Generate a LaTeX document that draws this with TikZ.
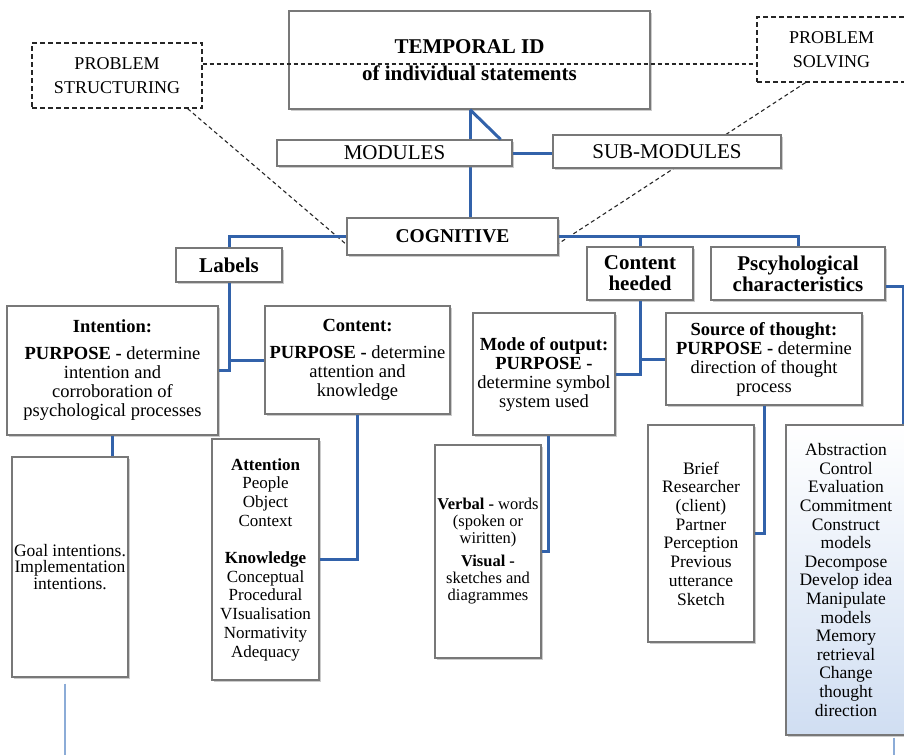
\documentclass[tikz,border=0pt]{standalone}
\usepackage{fontspec}
\setmainfont{Liberation Serif}
\usetikzlibrary{shadows,backgrounds}
\definecolor{linkblue}{RGB}{50,98,170}
\definecolor{paleblue}{RGB}{140,172,215}
\definecolor{boxgray}{RGB}{120,120,120}
\definecolor{shadeblue}{RGB}{208,222,242}

\begin{document}
\begin{tikzpicture}[x=1pt,y=-1pt,
  box/.style={draw=boxgray,line width=1.2pt,fill=white,align=center,inner sep=1pt,
    drop shadow={shadow xshift=1.6pt,shadow yshift=-1.6pt,opacity=.4}},
  dashbox/.style={draw=black!85,line width=1.2pt,dash pattern=on 5pt off 3pt,fill=white,
    align=center,inner sep=1pt,font=\fontsize{18}{24}\selectfont},
  link/.style={draw=linkblue,line width=3pt},
  thinlink/.style={draw=paleblue,line width=1.6pt},
  dashlink/.style={draw=black!85,line width=1.1pt,dash pattern=on 4pt off 3pt},
  txt/.style={font=\fontsize{18.5}{19}\selectfont},
  head/.style={font=\bfseries\fontsize{21}{21}\selectfont}]
\useasboundingbox (0,0) rectangle (904,755);

% top row
\node[box,minimum width=361pt,minimum height=98pt,font=\bfseries\fontsize{21}{27}\selectfont] (temporal) at (469.5,60) {TEMPORAL ID\\of individual statements};
\node[dashbox,minimum width=170pt,minimum height=65pt] (structuring) at (117,75.5) {PROBLEM\\STRUCTURING};
\node[dashbox,minimum width=149pt,minimum height=65pt] (solving) at (831.5,49.5) {PROBLEM\\SOLVING};
\node[box,minimum width=235pt,minimum height=26pt,inner sep=0pt,font=\fontsize{21}{21}\selectfont] (modules) at (394.5,153) {MODULES};
\node[box,minimum width=228pt,minimum height=33pt,font=\fontsize{21}{21}\selectfont] (submodules) at (667,151.5) {SUB-MODULES};
\node[box,minimum width=211pt,minimum height=37pt,font=\bfseries\fontsize{19.5}{20}\selectfont] (cognitive) at (452.5,236.5) {COGNITIVE};

% categories
\node[box,head,minimum width=106pt,minimum height=34pt] (labels) at (229,265) {Labels};
\node[box,head,minimum width=106pt,minimum height=53pt] (heeded) at (640,273.5) {Content\\heeded};
\node[box,head,minimum width=174pt,minimum height=53pt] (psych) at (798,273.5) {Pscyhological\\characteristics};

\node[box,txt,minimum width=211pt,minimum height=129pt] (intention) at (112.5,370.5) {\textbf{Intention:}\\[8pt]\textbf{PURPOSE -} determine\\intention and\\corroboration of\\psychological processes};
\node[box,txt,minimum width=185pt,minimum height=108pt] (content) at (357.5,360) {\textbf{Content:}\\[8pt]\textbf{PURPOSE -} determine\\attention and\\knowledge};
\node[box,txt,minimum width=142pt,minimum height=122pt] (mode) at (544,374) {\textbf{Mode of output:}\\\textbf{PURPOSE -}\\determine symbol\\system used};
\node[box,txt,minimum width=196pt,minimum height=92pt] (source) at (764,359) {\textbf{Source of thought:}\\\textbf{PURPOSE -} determine\\direction of thought\\process};

% lists
\node[box,minimum width=116pt,minimum height=220pt,font=\fontsize{17.5}{16.7}\selectfont] (goal) at (70,567) {Goal intentions.\\Implementation\\intentions.};
\node[box,minimum width=107pt,minimum height=241pt,font=\fontsize{17}{18.7}\selectfont] (attention) at (265.5,559.5) {\textbf{Attention}\\People\\Object\\Context\\[18.7pt]\textbf{Knowledge}\\Conceptual\\Procedural\\VIsualisation\\Normativity\\Adequacy};
\node[box,minimum width=106pt,minimum height=213pt,inner sep=0pt,font=\fontsize{16.5}{17}\selectfont] (verbal) at (488,551.5) {\textbf{Verbal -} words\\(spoken or\\wiritten)\\[6pt]\textbf{Visual -}\\sketches and\\diagrammes};
\node[box,minimum width=106pt,minimum height=217pt,font=\fontsize{17.5}{18.7}\selectfont] (brief) at (701,533.5) {Brief\\Researcher\\(client)\\Partner\\Perception\\Previous\\utterance\\Sketch};
\node[box,minimum width=120pt,minimum height=310pt,top color=white,bottom color=shadeblue,font=\fontsize{17.5}{18.6}\selectfont] (abstr) at (846,580) {Abstraction\\Control\\Evaluation\\Commitment\\Construct\\models\\Decompose\\Develop idea\\Manipulate\\models\\Memory\\retrieval\\Change\\thought\\direction};

\coordinate (spine) at (470,0);
\coordinate (dashrow) at (0,64);
\coordinate (goalfoot) at (65,755);
\coordinate (abstrfoot) at (894,755);

\begin{scope}[on background layer]
\draw[link] (temporal.south -| spine) -- (cognitive.north -| spine);
\draw[dashlink] ([xshift=-15pt]structuring.south east) -- ([yshift=-8pt]cognitive.west);
\draw[dashlink] ([xshift=-26pt]solving.south) -- ([yshift=-7pt]cognitive.east);
\end{scope}

\draw[link] (temporal.south -| spine) -- ([xshift=-12pt]modules.north east);
\draw[link] (modules.east) -- (submodules.west |- modules.east);
\draw[link] (cognitive.west) -| (labels.north);
\draw[link] (cognitive.east) -| (psych.north);
\draw[link] (heeded.north) -- (heeded.north |- cognitive.east);
\draw[link] ([yshift=-13pt]psych.east) -| ([xshift=-3pt]abstr.north east);
\draw[link] (labels.south) |- (intention.east);
\draw[link] (labels.south |- content.west) -- (content.west);
\draw[link] (intention.south) -- (intention.south |- goal.north);
\draw[link] (content.south) |- (attention.east);
\draw[link] (heeded.south) |- (mode.east);
\draw[link] (heeded.south |- source.west) -- (source.west);
\draw[link] ([xshift=4pt]mode.south) |- (verbal.east);
\draw[link] (source.south) |- (brief.east);
\draw[thinlink] (goal.south -| goalfoot) ++(0,6) -- (goalfoot);
\draw[thinlink] (abstr.south -| abstrfoot) ++(0,2) -- (abstrfoot);
\draw[dashlink] (structuring.east |- dashrow) -- (solving.west |- dashrow);
\end{tikzpicture}
\end{document}
